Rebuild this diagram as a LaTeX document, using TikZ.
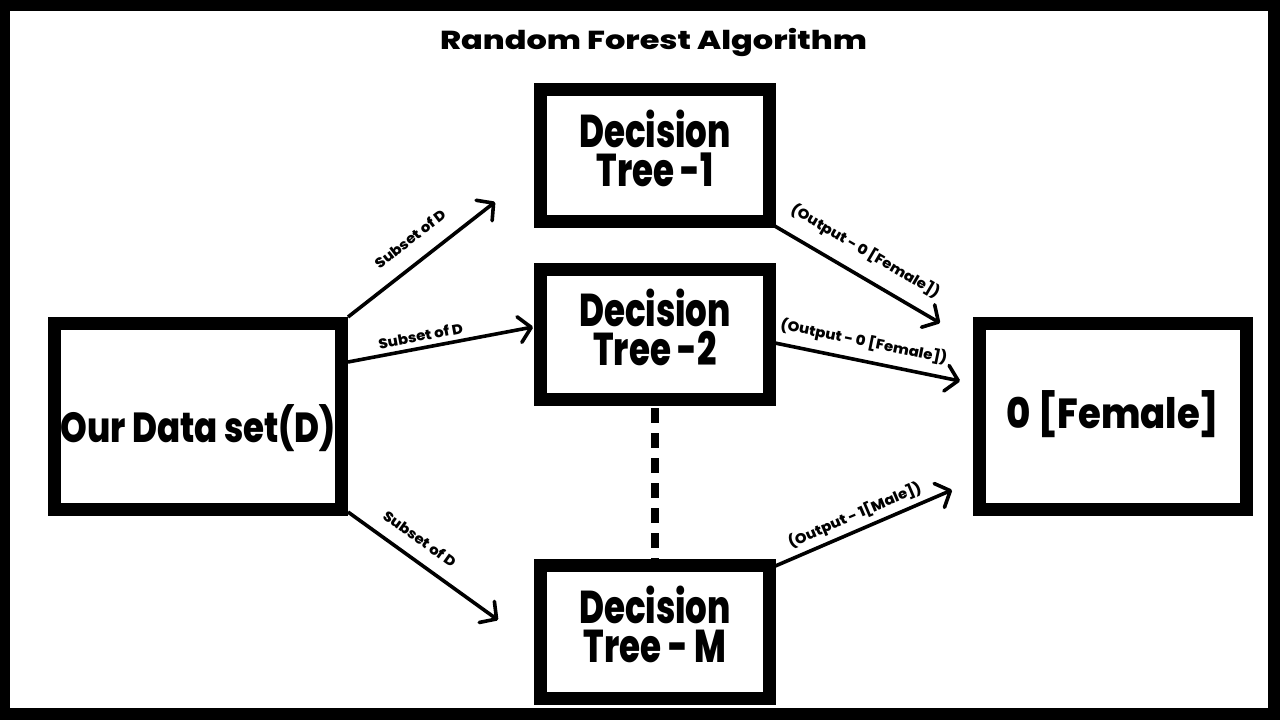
\documentclass[tikz,border=0pt]{standalone}
\usepackage{fontspec}
\usepackage{graphicx}
\setmainfont{Poppins}[BoldFont={Poppins ExtraBold}]
\usetikzlibrary{arrows.meta,calc}
\newcommand\dtext[2]{\scalebox{0.74}[1]{\vbox{\halign{\hfil##\hfil\cr #1\cr #2\cr}}}}
\newcommand\lb[1]{\scalebox{1.07}[1]{#1}}
\begin{document}
\begin{tikzpicture}[x=1pt,y=-1pt,
  boxnode/.style={draw=black,line width=13pt,fill=white,align=center,inner sep=0pt},
  bigtext/.style={font=\fontsize{46}{39}\selectfont\bfseries,text height=61pt,text depth=0pt},
  arr/.style={line width=3.6pt,-{Straight Barb[length=12pt,width=26pt,line cap=round,line join=round]}},
  lbl/.style={font=\fontsize{14}{14}\selectfont\bfseries,sloped,inner sep=2pt,anchor=south}]
\fill[black] (0,0) rectangle (1280,720);
\fill[white] (10,11) rectangle (1268,708);
\node[font=\fontsize{26}{26}\selectfont\bfseries,anchor=base] (title) at (653.5,49) {\scalebox{1.23}[1]{Random Forest Algorithm}};
\node[boxnode,bigtext,minimum width=229pt,minimum height=132pt] (t1) at (655,155.5) {\dtext{Decision}{Tree -1}};
\node[boxnode,bigtext,minimum width=229pt,minimum height=130pt] (t2) at (655,334.5) {\dtext{Decision}{Tree -2}};
\node[boxnode,bigtext,minimum width=229pt,minimum height=133pt] (tm) at (655,632) {\dtext{Decision}{Tree - M}};
\node[boxnode,font=\fontsize{42}{42}\selectfont\bfseries,text height=60pt,text depth=8pt,minimum width=287pt,minimum height=186pt] (data) at (198,416.5) {\scalebox{0.81}[1]{Our Data set(D)}};
\node[boxnode,font=\fontsize{42}{42}\selectfont\bfseries,text height=33pt,text depth=10pt,minimum width=267pt,minimum height=186pt] (out) at (1113,416.5) {\scalebox{0.88}[1]{0 [Female]}};
\draw[line width=8.5pt,dash pattern=on 15pt off 10pt] ($(t2.south)+(0,2)$) -- (tm.north);
\coordinate (e1) at (495,202);
\coordinate (e2) at (533,327);
\coordinate (e3) at (498,620);
\coordinate (e4) at (940,323);
\coordinate (e5) at (960,381);
\coordinate (e6) at (952,490);
\draw[arr] (data.north east) -- node[lbl,pos=0.52,yshift=14pt] {\lb{Subset of D}} (e1);
\draw[arr] ($(data.north east)+(0,45)$) -- node[lbl,pos=0.405,yshift=3pt] {\lb{Subset of D}} (e2);
\draw[arr] ($(data.south east)+(0,-4)$) -- node[lbl,pos=0.4,yshift=11pt] {\lb{Subset of D}} (e3);
\draw[arr] ($(t1.south east)+(-3,-3)$) -- node[lbl,pos=0.48,yshift=12pt] {\lb{(Output - 0 [Female])}} (e4);
\draw[arr] ($(t2.east)+(-1,8.5)$) -- node[lbl,pos=0.46,yshift=7pt] {\lb{(Output - 0 [Female])}} (e5);
\draw[arr] ($(tm.north east)+(-3,8)$) -- node[lbl,pos=0.49,yshift=3pt] {\lb{(Output - 1[Male])}} (e6);
\end{tikzpicture}
\end{document}
